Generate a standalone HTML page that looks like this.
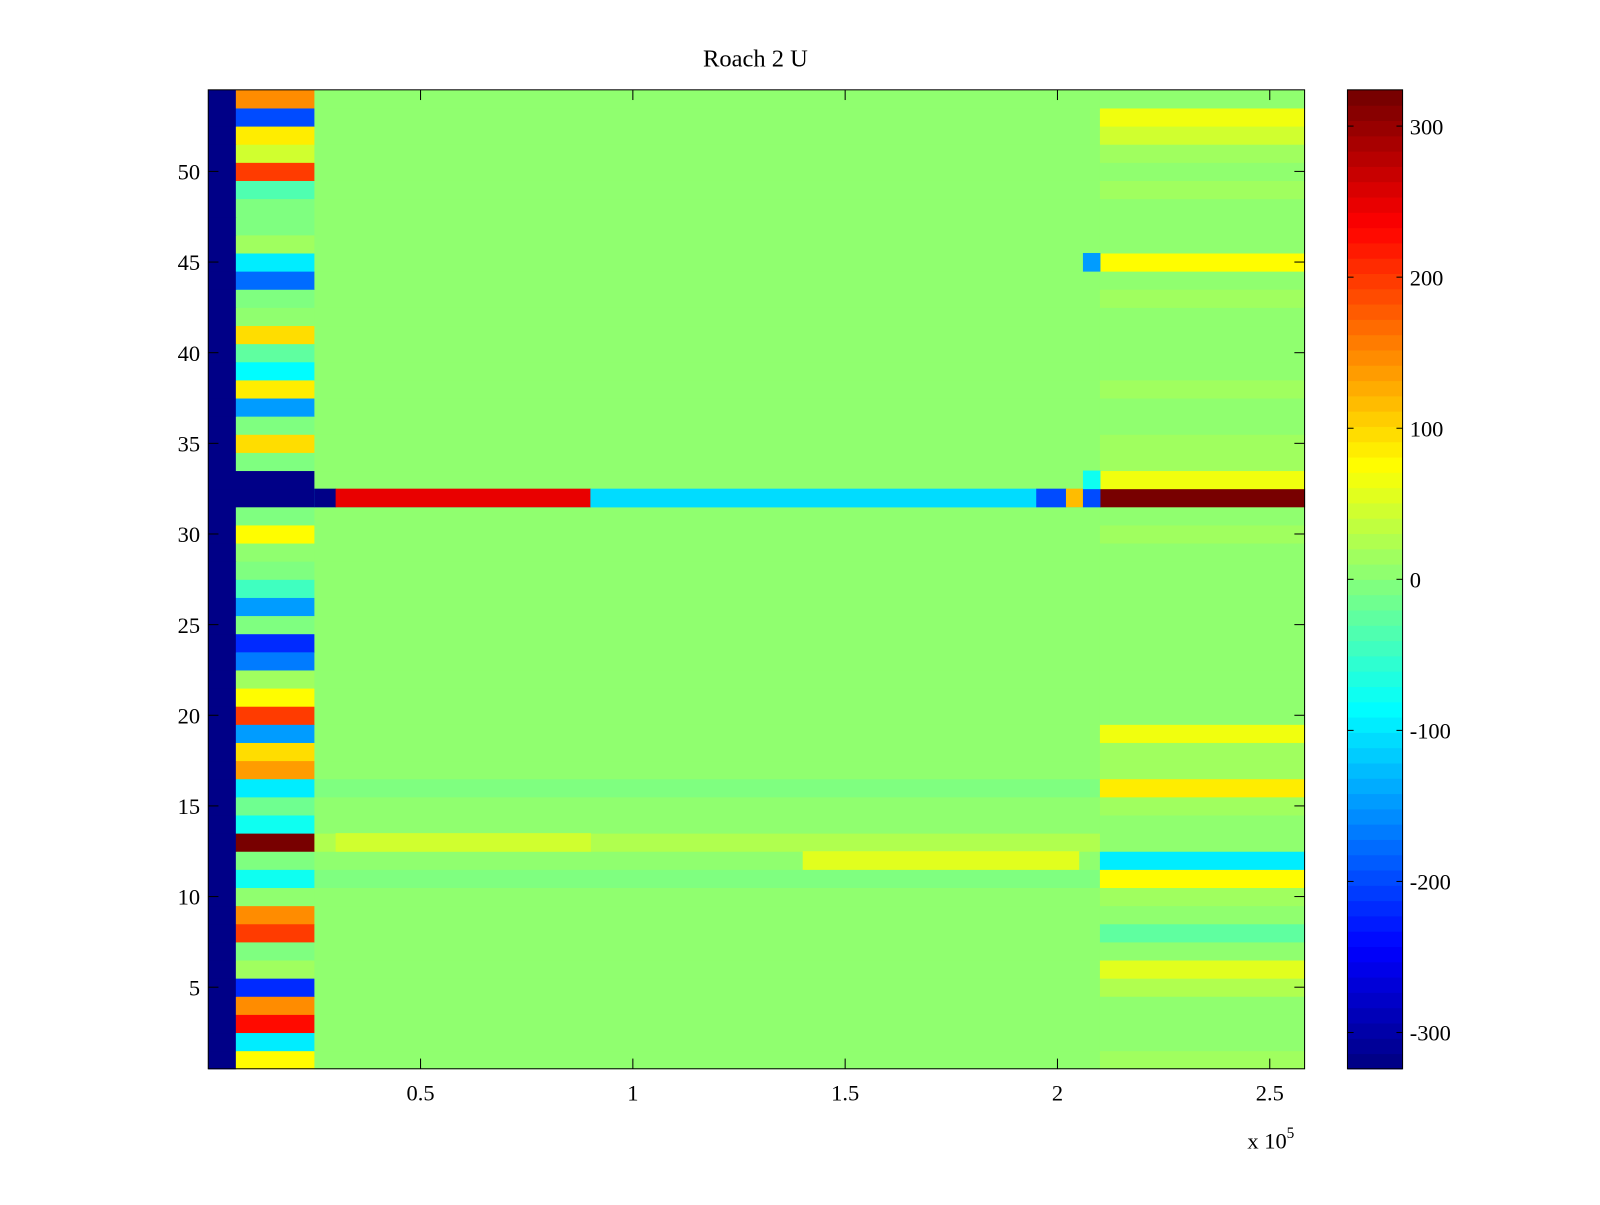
<!DOCTYPE html>
<html><head><meta charset="utf-8"><style>
html,body{margin:0;padding:0;background:#fff;}
svg text{font-family:"Liberation Serif",serif;fill:#000;}
</style></head><body>
<svg id="chart" width="1600" height="1200" viewBox="0 0 1600 1200" xmlns="http://www.w3.org/2000/svg">
<rect x="0" y="0" width="1600" height="1200" fill="#fff"/>
<g transform="scale(1.0208)">
<text x="740" y="65" font-size="24" text-anchor="middle">Roach 2 U</text>
<g id="cells"></g>
<g id="axes"></g>
<g id="cbar"></g>
</g>
</svg>
<script>
// rows 1..54 (index 0 = row 1)
const earlyVals=[80,-100,230,150,-220,20,0,200,150,10,-80,0,320,-80,-20,-100,140,100,-150,200,80,20,-170,-220,0,-150,-50,0,10,80,0,-324,-324,0,100,0,-150,90,-90,-30,100,10,0,-180,-100,20,0,0,-40,200,50,90,-200,150];
const midVals=[5,5,5,5,5,10,5,5,5,5,0,5,25,5,5,0,10,10,5,5,5,5,5,5,5,5,5,5,5,5,5,-100,10,5,5,5,5,5,5,5,5,5,5,5,5,5,5,5,5,5,10,10,10,5];
const lateVals=[15,5,5,5,30,60,10,-30,5,20,80,-100,5,10,20,90,15,20,70,10,10,10,10,10,10,10,10,10,10,15,10,320,70,15,20,10,10,20,10,10,10,10,20,10,80,10,10,10,20,10,20,50,70,10];
// extra segments: [row, xStart, xEnd, value]
const extraSegs=[[32,25000,30000,-324],[32,30000,90000,250],[32,90000,195000,-110],[32,195000,202000,-200],[32,202000,206000,120],[32,206000,210000,-200],[13,30000,90000,50],[12,140000,205000,60],[33,206000,210000,-80],[45,206000,210000,-150]];
const xTicks=[50000,100000,150000,200000,250000];
const xTickLabels=["0.5","1","1.5","2","2.5"];
const yTicks=[5,10,15,20,25,30,35,40,45,50];
const cbTicks=[-300,-200,-100,0,100,200,300];

const X0=204,X1=1278,Y0=88,Y1=1047,XMAX=258200,CL=324;
const xs=v=>X0+(v/XMAX)*(X1-X0);
const ys=r=>Y1-((r-0.5)/54)*(Y1-Y0);
function jet(v){let t=(v+CL)/(2*CL);t=Math.max(0,Math.min(1,t));t=Math.floor(t*63.999)/63+1/128;
 const f=x=>Math.round(255*Math.max(0,Math.min(1,1.5-Math.abs(4*t-x))));
 return `rgb(${f(3)},${f(2)},${f(1)})`;}
const NS="http://www.w3.org/2000/svg";
function mk(tag,attrs,parent){const e=document.createElementNS(NS,tag);for(const k in attrs)e.setAttribute(k,attrs[k]);parent.appendChild(e);return e;}
const cells=document.getElementById('cells');
function seg(r,a,b,v){const e=mk('rect',{x:xs(a),y:ys(r+0.5),width:xs(b)-xs(a)+0.5,height:ys(r-0.5)-ys(r+0.5)+0.5,fill:jet(v)},cells);

}
for(let i=0;i<54;i++){const r=i+1;
 seg(r,0,6500,-324);
 seg(r,6500,25000,earlyVals[i]);
 seg(r,25000,206000,midVals[i]);
 seg(r,206000,210000,midVals[i]);
 seg(r,210000,XMAX,lateVals[i]);}
extraSegs.forEach(s=>seg(s[0],s[1],s[2],s[3]));
const ax=document.getElementById('axes');
mk('rect',{x:X0,y:Y0,width:X1-X0,height:Y1-Y0,fill:'none',stroke:'#000','stroke-width':1},ax);
xTicks.forEach((v,i)=>{const x=xs(v);
 mk('line',{x1:x,x2:x,y1:Y1,y2:Y1-10,stroke:'#000'},ax);
 mk('line',{x1:x,x2:x,y1:Y0,y2:Y0+10,stroke:'#000'},ax);
 const t=mk('text',{x:x,y:1078,'font-size':22,'text-anchor':'middle'},ax);t.textContent=xTickLabels[i];
 
 });
yTicks.forEach(v=>{const y=ys(v);
 mk('line',{x1:X0,x2:X0+10,y1:y,y2:y,stroke:'#000'},ax);
 mk('line',{x1:X1,x2:X1-10,y1:y,y2:y,stroke:'#000'},ax);
 const t=mk('text',{x:196,y:y+8,'font-size':22,'text-anchor':'end'},ax);t.textContent=v;
 
 });
const ex=mk('text',{x:1222,y:1125,'font-size':22},ax);ex.innerHTML='x 10<tspan dy="-10" font-size="15">5</tspan>';


const cb=document.getElementById('cbar');
const C0=1320,C1=1374;
const cy=v=>Y1-((v+CL)/(2*CL))*(Y1-Y0);
for(let k=0;k<64;k++){const v0=-CL+k*(2*CL/64),v1=v0+2*CL/64;
 const r=mk('rect',{x:C0,y:cy(v1),width:C1-C0,height:cy(v0)-cy(v1)+0.6,fill:jet((v0+v1)/2)},cb);
 
 }
mk('rect',{x:C0,y:Y0,width:C1-C0,height:Y1-Y0,fill:'none',stroke:'#000'},cb);
cbTicks.forEach(v=>{const y=cy(v);
 mk('line',{x1:C0,x2:C0+6,y1:y,y2:y,stroke:'#000'},cb);
 mk('line',{x1:C1,x2:C1-6,y1:y,y2:y,stroke:'#000'},cb);
 const t=mk('text',{x:1381,y:y+8,'font-size':22},cb);t.textContent=v;
 
 });
</script>
</body></html>
